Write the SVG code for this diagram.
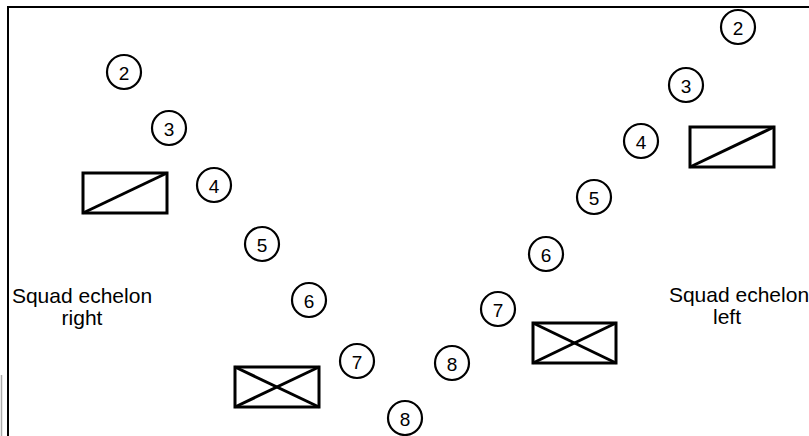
<svg xmlns="http://www.w3.org/2000/svg" width="809" height="436" viewBox="0 0 809 436">
<style>
.frame{fill:none;stroke:#000;stroke-width:2}
.c circle{fill:#fff;stroke:#000;stroke-width:2.2}
.c text{font-family:"Liberation Sans",Arial,sans-serif;font-size:19px;text-anchor:middle;dominant-baseline:central;fill:#000}
.box rect,.box line{fill:none;stroke:#000;stroke-width:3}
.lbl{font-family:"Liberation Sans",Arial,sans-serif;font-size:21px;fill:#000;text-anchor:middle}
</style>
<rect width="809" height="436" fill="#fff"/>
<g id="frame">
<path class="frame" d="M8,436 V7 H809"/>
<line x1="1.5" y1="375" x2="1.5" y2="436" stroke="#aaa" stroke-width="1.5"/>
</g>
<g id="connectors"></g>
<g id="left-soldiers" class="c">
<g id="L2"><circle cx="124" cy="72" r="17"/><text x="124" y="73">2</text></g>
<g id="L3"><circle cx="169" cy="128" r="17"/><text x="169" y="129">3</text></g>
<g id="L4"><circle cx="214" cy="185" r="17"/><text x="214" y="186">4</text></g>
<g id="L5"><circle cx="262" cy="244" r="17"/><text x="262" y="245">5</text></g>
<g id="L6"><circle cx="309" cy="300" r="17"/><text x="309" y="301">6</text></g>
<g id="L7"><circle cx="357" cy="361" r="17"/><text x="357" y="362">7</text></g>
<g id="L8"><circle cx="405" cy="418" r="17"/><text x="405" y="419">8</text></g>
</g>
<g id="right-soldiers" class="c">
<g id="R2"><circle cx="738" cy="27" r="17"/><text x="738" y="28">2</text></g>
<g id="R3"><circle cx="686" cy="85" r="17"/><text x="686" y="86">3</text></g>
<g id="R4"><circle cx="641" cy="141" r="17"/><text x="641" y="142">4</text></g>
<g id="R5"><circle cx="594" cy="197" r="17"/><text x="594" y="198">5</text></g>
<g id="R6"><circle cx="546" cy="254" r="17"/><text x="546" y="255">6</text></g>
<g id="R7"><circle cx="498" cy="309" r="17"/><text x="498" y="310">7</text></g>
<g id="R8"><circle cx="452" cy="363" r="17"/><text x="452" y="364">8</text></g>
</g>
<g id="box-left-diag" class="box"><rect x="83" y="173" width="84" height="40"/><line x1="83" y1="213" x2="167" y2="173"/></g>
<g id="box-right-diag" class="box"><rect x="690" y="127" width="84" height="40"/><line x1="690" y1="167" x2="774" y2="127"/></g>
<g id="box-left-x" class="box"><rect x="235" y="367" width="84" height="40"/><line x1="235" y1="367" x2="319" y2="407"/><line x1="235" y1="407" x2="319" y2="367"/></g>
<g id="box-right-x" class="box"><rect x="533" y="323" width="83" height="40"/><line x1="533" y1="323" x2="616" y2="363"/><line x1="533" y1="363" x2="616" y2="323"/></g>
<g id="label-right"><text class="lbl" x="82" y="303">Squad echelon</text><text class="lbl" x="82" y="325">right</text></g>
<g id="label-left"><text class="lbl" x="739" y="302">Squad echelon</text><text class="lbl" x="727" y="324">left</text></g>
</svg>
